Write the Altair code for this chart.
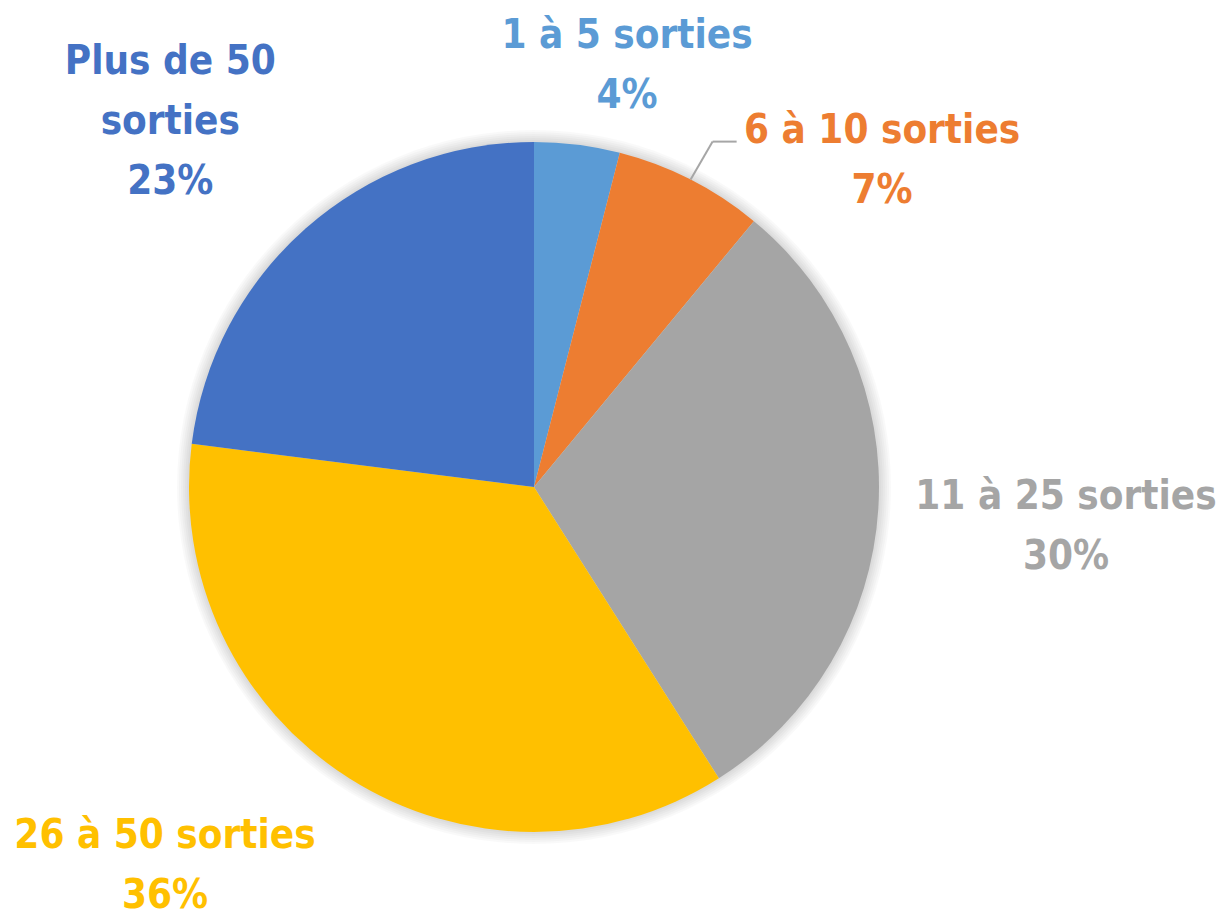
import math
import altair as alt
import pandas as pd

# ---- data ----
categories = ["1 à 5 sorties", "6 à 10 sorties", "11 à 25 sorties", "26 à 50 sorties", "Plus de 50 sorties"]
label_names = ["1 à 5 sorties", "6 à 10 sorties", "11 à 25 sorties", "26 à 50 sorties", "Plus de 50\nsorties"]
values = [4, 7, 30, 36, 23]
colors = ["#5B9BD5", "#ED7D31", "#A5A5A5", "#FFC000", "#4472C4"]

df = pd.DataFrame({"cat": categories, "name": label_names, "value": values,
                   "order": list(range(len(categories)))})

# ---- layout / style ----
CX, CY, R = 526, 479, 345
TWO_PI = 2 * math.pi
FONT = "DejaVu Sans Condensed"
theta_scale = alt.Scale(domain=[0, 100], range=[0, TWO_PI])
color = alt.Color("cat:N", scale=alt.Scale(domain=categories, range=colors), legend=None)

# label placement styles: (radius, dx, dy)
placement = {
    "1 à 5 sorties": (447, 37, 4),
    "6 à 10 sorties": (465, 137, 70),
    "11 à 25 sorties": (532, 1, -11),
    "26 à 50 sorties": (502, -100, -63),
    "Plus de 50 sorties": (550, 0, 0),
}

base = alt.Chart(df)

# soft glow around the pie
shadow_layers = []
for k in range(2, 14, 2):
    shadow_layers.append(
        base.transform_filter(alt.datum.order == 0)
        .mark_arc(outerRadius=R + k, theta=0, theta2=TWO_PI, color="#000000", opacity=0.025)
        .encode(x=alt.value(CX), y=alt.value(CY))
    )

pie = base.mark_arc(outerRadius=R).encode(
    theta=alt.Theta("value:Q", stack=True, scale=theta_scale),
    color=color,
    order=alt.Order("order:Q"),
    x=alt.value(CX),
    y=alt.value(CY),
)

with_mid = base.transform_window(
    cum="sum(value)", sort=[alt.SortField("order")], frame=[None, 0]
).transform_calculate(
    mid="datum.cum - datum.value / 2",
    label="datum.name + '\\n' + datum.value + '%'",
)

text_layers = []
for c in categories:
    r, dx, dy = placement[c]
    text_layers.append(
        with_mid.transform_filter(alt.datum.cat == c)
        .mark_text(radius=r, dx=dx, dy=dy, font=FONT, fontSize=40, fontWeight="bold",
                   lineBreak="\n", lineHeight=60, align="center", baseline="alphabetic")
        .encode(
            theta=alt.Theta("mid:Q", scale=theta_scale),
            text="label:N",
            color=color,
            x=alt.value(CX),
            y=alt.value(CY),
        )
    )

lead = with_mid.transform_filter(alt.datum.cat == categories[1]).transform_calculate(
    ang="datum.mid / 100 * 2 * PI",
).transform_calculate(
    x1=f"{CX} + {R} * sin(datum.ang)",
    y1=f"{CY} - {R} * cos(datum.ang)",
).transform_calculate(
    xe="datum.x1 + 22",
    ye="datum.y1 - 38",
).transform_calculate(
    xf="datum.xe + 24",
)
seg1 = lead.mark_rule(color="#A6A6A6", strokeWidth=2).encode(
    x=alt.X("x1:Q", scale=None), y=alt.Y("y1:Q", scale=None), x2="xe:Q", y2="ye:Q"
)
seg2 = lead.mark_rule(color="#A6A6A6", strokeWidth=2).encode(
    x=alt.X("xe:Q", scale=None), y=alt.Y("ye:Q", scale=None), x2="xf:Q", y2="ye:Q"
)

chart = alt.layer(*shadow_layers, pie, seg1, seg2, *text_layers).properties(
    width=1208, height=902, padding=0,
    autosize=alt.AutoSizeParams(type="none"),
    background="white",
).configure_view(stroke=None)

chart.save("out.html", embed_options={"renderer": "svg", "actions": False})
